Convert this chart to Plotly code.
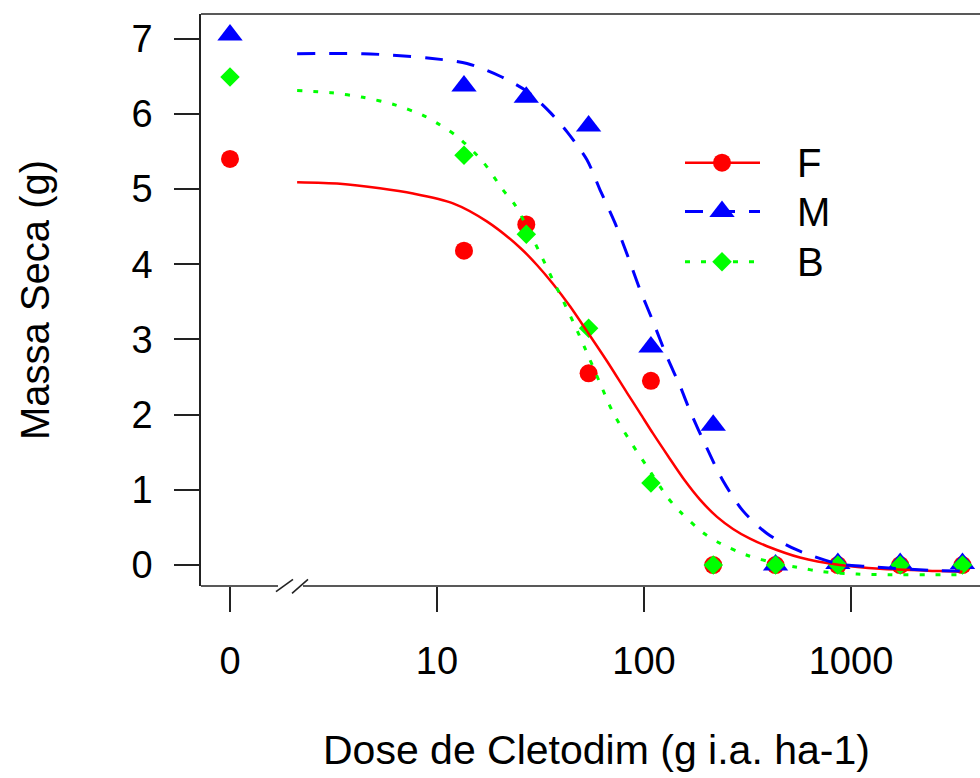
import plotly.graph_objects as go

# ---------------- data ----------------
dose = [0, 13.5, 27, 54, 108, 216, 432, 864, 1728, 3456]
massa_F = [5.40, 4.18, 4.53, 2.55, 2.45, 0.00, 0.00, 0.00, 0.00, 0.00]
massa_M = [7.05, 6.37, 6.22, 5.84, 2.90, 1.86, 0.00, 0.02, 0.02, 0.02]
massa_B = [6.49, 5.45, 4.40, 3.15, 1.09, 0.00, 0.00, 0.00, 0.00, 0.00]

# fitted curves, points
curve_F_dose = [2.11, 3.40, 5.30, 7.66, 11.95, 17.4, 25.2, 30.4, 36.3, 43.9, 53.0, 66.3,
                82.8, 95.7, 110.5, 130.6, 157.8, 186.4, 225.3, 269.2, 325.1, 392.9,
                567, 885, 1381, 2692, 3456]
curve_F_val = [5.09, 5.07, 5.01, 4.94, 4.81, 4.57, 4.22, 3.99, 3.74, 3.44, 3.11, 2.71,
               2.29, 2.02, 1.75, 1.45, 1.12, 0.87, 0.64, 0.48, 0.35, 0.25,
               0.10, 0.00, -0.05, -0.08, -0.09]

curve_M_dose = [2.11, 4.39, 6.13, 9.25, 13.96, 20.2, 27.2, 35.2, 42.5, 53.0, 61.3,
                72.4, 83.7, 95.7, 110.5, 129.1, 149.3, 166.8, 201.6, 240.8, 300.8,
                392.9, 548.3, 856, 1195, 2408, 3456]
curve_M_val = [6.80, 6.80, 6.78, 6.74, 6.67, 6.50, 6.30, 6.02, 5.76, 5.39, 4.99,
               4.55, 4.10, 3.66, 3.24, 2.77, 2.38, 2.05, 1.55, 1.12, 0.72,
               0.42, 0.20, 0.02, -0.02, -0.07, -0.08]

curve_B_dose = [2.11, 3.11, 4.39, 6.27, 8.56, 10.1, 12.5, 16.7, 20.8, 23.8, 31.4,
                36.3, 40.6, 47.5, 51.9, 61.3, 70.8, 85.6, 103.4, 129.1, 149.3,
                192.8, 232.9, 314.5, 439.1, 548.3, 732, 1069, 1543, 2692, 3456]
curve_B_val = [6.31, 6.28, 6.22, 6.12, 5.98, 5.87, 5.70, 5.36, 4.99, 4.79, 4.15,
               3.79, 3.52, 3.12, 2.88, 2.42, 2.03, 1.65, 1.31, 0.91, 0.71,
               0.43, 0.29, 0.13, 0.02, -0.03, -0.09, -0.12, -0.13, -0.13, -0.13]

series_names = ["F", "M", "B"]
x_tick_vals = [1, 10, 100, 1000]
x_tick_text = ["0", "10", "100", "1000"]
y_tick_vals = [0, 1, 2, 3, 4, 5, 6, 7]

# ---------------- styling ----------------
ZERO_POS = 1.0          # where dose 0 is drawn on the log axis
COLORS = ["#FF0000", "#0000FF", "#00FF00"]
SYMBOLS = ["circle", "triangle-up", "diamond"]
SIZES = [18, 22, 15]
DASHES = ["solid", "18px,14px", "5px,11px"]
FONT = "Liberation Sans, Arial, sans-serif"
AXC = "#222222"

W, H = 980, 778
ML, MR, MT, MB = 201, 0, 14, 192
PW, PH = W - ML - MR, H - MT - MB


def px_x(p):
    return (p - ML) / PW


def px_y(p):
    return (H - MB - p) / PH


dose_plot = [d if d > 0 else ZERO_POS for d in dose]
vals = [massa_F, massa_M, massa_B]
curves = [(curve_F_dose, curve_F_val), (curve_M_dose, curve_M_val), (curve_B_dose, curve_B_val)]

fig = go.Figure()

for i in range(3):
    fig.add_trace(go.Scatter(
        x=dose_plot, y=vals[i], mode="markers", showlegend=False,
        marker=dict(symbol=SYMBOLS[i], size=SIZES[i], color=COLORS[i], line=dict(width=0)),
    ))
for i in range(3):
    cx, cy = curves[i]
    fig.add_trace(go.Scatter(
        x=cx, y=cy, mode="lines", showlegend=False, line_shape="spline",
        line=dict(color=COLORS[i], width=2.5 if i == 0 else 3, dash=DASHES[i], smoothing=0.8),
    ))

# manual legend (overlay axes in fractional coordinates)
leg_y = [px_y(162.7), px_y(211.5), px_y(261.7)]
leg_x0, leg_xm, leg_x1, leg_xt = px_x(685), px_x(722), px_x(760), px_x(795)
for i in range(3):
    fig.add_trace(go.Scatter(
        x=[leg_x0, leg_x1], y=[leg_y[i], leg_y[i]], mode="lines", showlegend=False,
        xaxis="x2", yaxis="y2", hoverinfo="skip",
        line=dict(color=COLORS[i], width=2.5 if i == 0 else 3, dash=DASHES[i]),
    ))
    fig.add_trace(go.Scatter(
        x=[leg_xm], y=[leg_y[i]], mode="markers", showlegend=False,
        xaxis="x2", yaxis="y2", hoverinfo="skip",
        marker=dict(symbol=SYMBOLS[i], size=SIZES[i], color=COLORS[i], line=dict(width=0)),
    ))

annotations = []
for i in range(3):
    annotations.append(dict(
        x=leg_xt, y=leg_y[i], xref="paper", yref="paper", text=series_names[i],
        showarrow=False, xanchor="left", yanchor="middle",
        font=dict(family=FONT, size=40, color="black"),
    ))
annotations.append(dict(
    x=px_x(596), y=px_y(750), xref="paper", yref="paper",
    text="Dose de Cletodim (g i.a. ha-1)", showarrow=False,
    xanchor="center", yanchor="middle", font=dict(family=FONT, size=41, color="black"),
))
annotations.append(dict(
    x=px_x(35), y=px_y(300), xref="paper", yref="paper",
    text="Massa Seca (g)", showarrow=False, textangle=-90,
    xanchor="center", yanchor="middle", font=dict(family=FONT, size=40, color="black"),
))

# axis frame: broken bottom line, top line
shapes = [
    dict(type="line", xref="paper", yref="paper", x0=0, x1=px_x(278), y0=0, y1=0,
         line=dict(color=AXC, width=1.6)),
    dict(type="line", xref="paper", yref="paper", x0=px_x(303), x1=1, y0=0, y1=0,
         line=dict(color=AXC, width=1.6)),
    dict(type="line", xref="paper", yref="paper", x0=px_x(276), x1=px_x(293),
         y0=px_y(591.7), y1=px_y(579.3), line=dict(color=AXC, width=1.6)),
    dict(type="line", xref="paper", yref="paper", x0=px_x(292), x1=px_x(308),
         y0=px_y(593.3), y1=px_y(579.3), line=dict(color=AXC, width=1.6)),
    dict(type="line", xref="paper", yref="paper", x0=0, x1=1, y0=1, y1=1,
         line=dict(color=AXC, width=1.6)),
]

fig.update_layout(
    width=W, height=H,
    margin=dict(l=ML, r=MR, t=MT, b=MB),
    paper_bgcolor="white", plot_bgcolor="white",
    font=dict(family=FONT, color="black"),
    showlegend=False,
    xaxis=dict(
        type="log", range=[-0.1401, 3.6232], showgrid=False, zeroline=False,
        showline=False, ticks="outside", ticklen=25, tickwidth=1.6, tickcolor=AXC,
        tickvals=x_tick_vals, ticktext=x_tick_text,
        tickfont=dict(family=FONT, size=38, color="black"), ticklabelstandoff=16,
    ),
    yaxis=dict(
        range=[-0.279, 7.328], showgrid=False, zeroline=False,
        showline=True, linecolor=AXC, linewidth=1.6,
        ticks="outside", ticklen=25, tickwidth=1.6, tickcolor=AXC,
        tickvals=y_tick_vals,
        tickfont=dict(family=FONT, size=38, color="black"), ticklabelstandoff=14,
    ),
    xaxis2=dict(overlaying="x", range=[0, 1], visible=False, domain=[0, 1]),
    yaxis2=dict(overlaying="y", range=[0, 1], visible=False, domain=[0, 1]),
    annotations=annotations,
    shapes=shapes,
)

fig.write_html("out.html")
